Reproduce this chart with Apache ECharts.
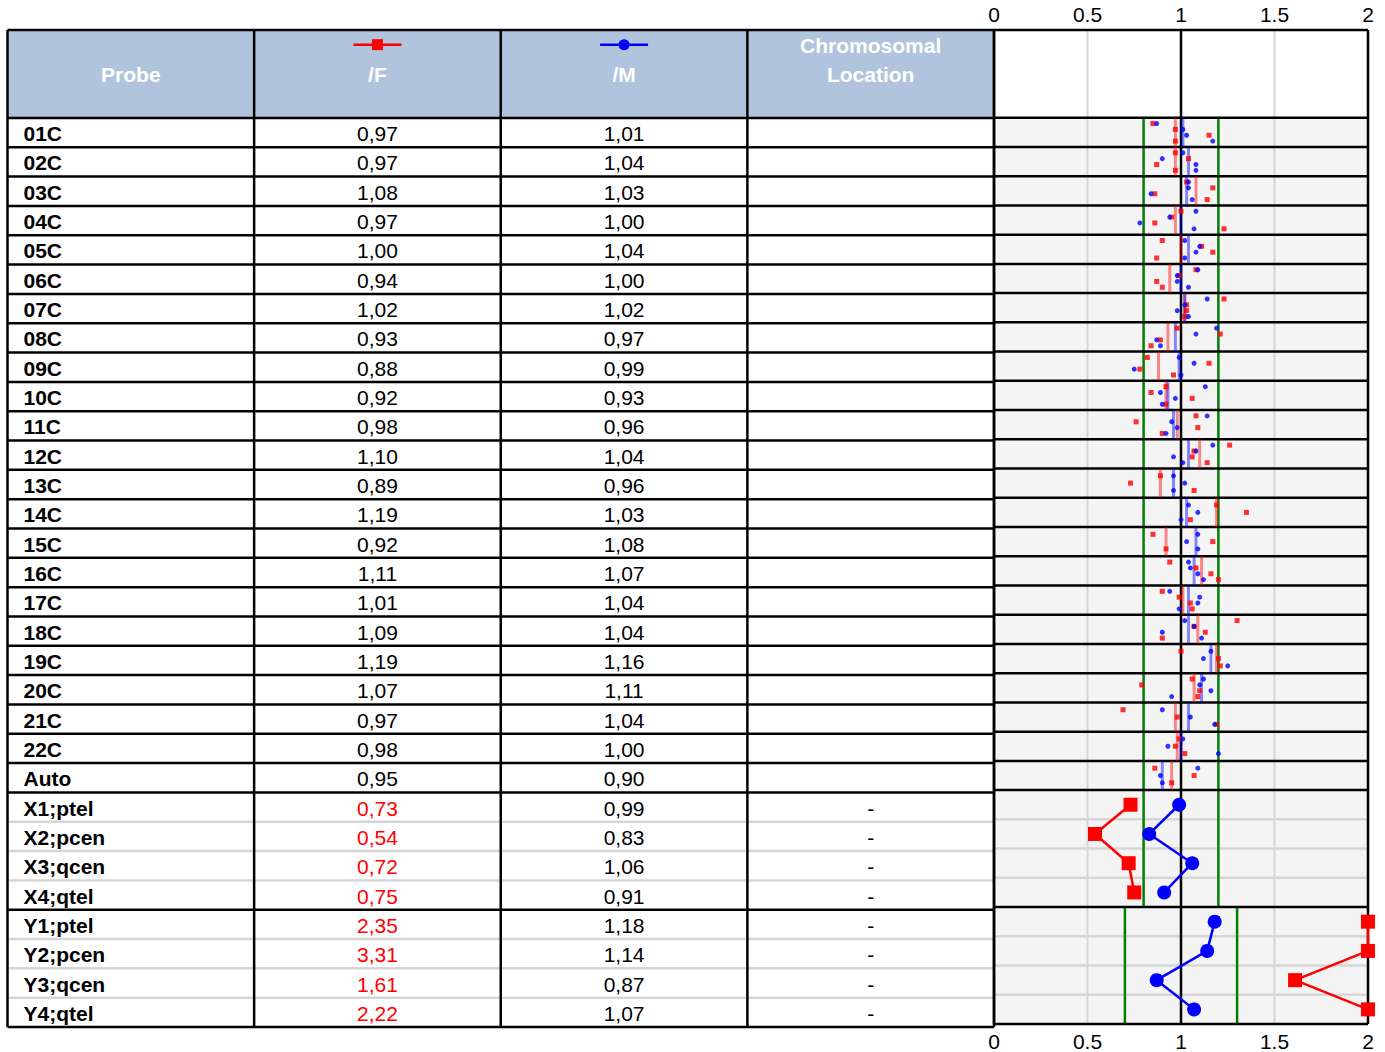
<!DOCTYPE html>
<html>
<head>
<meta charset="utf-8">
<script src="https://cdn.jsdelivr.net/npm/echarts@6/dist/echarts.min.js"></script>
<style>
  html, body { margin: 0; padding: 0; background: #fff; }
  #chart { width: 1385px; height: 1052px; }
</style>
</head>
<body>
<div id="chart"></div>
<script>
// ---- data ----
const probes = ['01C', '02C', '03C', '04C', '05C', '06C', '07C', '08C', '09C', '10C', '11C',
  '12C', '13C', '14C', '15C', '16C', '17C', '18C', '19C', '20C', '21C', '22C', 'Auto',
  'X1;ptel', 'X2;pcen', 'X3;qcen', 'X4;qtel', 'Y1;ptel', 'Y2;pcen', 'Y3;qcen', 'Y4;qtel'];
const ratioF = [0.97, 0.97, 1.08, 0.97, 1.00, 0.94, 1.02, 0.93, 0.88, 0.92, 0.98, 1.10, 0.89,
  1.19, 0.92, 1.11, 1.01, 1.09, 1.19, 1.07, 0.97, 0.98, 0.95,
  0.73, 0.54, 0.72, 0.75, 2.35, 3.31, 1.61, 2.22];
const ratioM = [1.01, 1.04, 1.03, 1.00, 1.04, 1.00, 1.02, 0.97, 0.99, 0.93, 0.96, 1.04, 0.96,
  1.03, 1.08, 1.07, 1.04, 1.04, 1.16, 1.11, 1.04, 1.00, 0.90,
  0.99, 0.83, 1.06, 0.91, 1.18, 1.14, 0.87, 1.07];
const locations = ['', '', '', '', '', '', '', '', '', '', '', '', '', '', '', '', '', '', '', '', '', '', '',
  '-', '-', '-', '-', '-', '-', '-', '-'];

// single probe ratios for the autosomal rows (01C .. Auto)
const probeF = [
  [0.85, 0.97, 1.15, 0.97], [0.97, 1.04, 0.87, 0.97], [1.03, 1.17, 0.86, 1.14], [1.00, 0.95, 0.86, 1.23],
  [0.90, 1.11, 1.17, 0.87], [1.08, 0.99, 0.87, 0.90], [1.23, 1.03, 1.03, 1.02], [0.98, 1.21, 0.89, 0.84],
  [0.82, 1.15, 0.78, 0.96], [0.92, 0.84, 1.06, 0.92], [1.08, 0.76, 1.09, 0.90], [1.26, 1.07, 1.06, 1.14],
  [0.89, 0.73, 1.07], [1.19, 1.35, 1.05], [0.85, 1.17, 0.92], [0.94, 1.08, 1.16, 1.20],
  [0.90, 0.99, 1.05, 1.06], [1.30, 1.07, 1.13, 0.90], [1.00, 1.20, 1.21], [1.06, 0.79, 1.10, 1.09],
  [0.69, 0.98, 1.19], [0.99, 0.97, 1.02], [0.86, 1.07, 0.95]
];
const probeM = [
  [0.87, 1.01, 1.03, 1.17], [1.01, 0.90, 1.08, 1.08], [1.04, 1.04, 0.84, 1.06], [1.08, 0.94, 0.78, 1.07],
  [1.02, 1.10, 1.08, 1.02], [1.09, 0.98, 0.98, 1.04], [1.14, 1.02, 0.98, 1.04], [1.19, 1.08, 0.87, 0.89],
  [0.99, 1.07, 0.75, 1.00], [1.13, 0.89, 0.97, 0.90], [1.14, 0.95, 0.98, 0.92], [1.17, 1.08, 0.96, 1.01],
  [0.96, 1.02, 0.96], [1.04, 1.09, 1.00], [1.09, 1.03, 1.09], [1.04, 1.05, 1.09, 1.12],
  [0.94, 1.10, 1.09, 0.99], [1.02, 1.07, 0.90, 1.11], [1.16, 1.12, 1.25], [1.12, 1.10, 1.16, 0.95],
  [0.90, 1.05, 1.18], [1.01, 0.93, 1.20], [1.09, 0.89, 0.90]
];

const xTicks = [0, 0.5, 1, 1.5, 2];
const sectionStart = [0, 23, 27];   // autosomes, X, Y
const sectionEnd = [23, 27, 31];
const bandLow = [0.8, 0.8, 0.7];
const bandHigh = [1.2, 1.2, 1.3];
const headerRows = 3;

// ---- helpers ----
const FONT = '"Liberation Sans", Arial, sans-serif';
const nRows = probes.length;
const xMax = xTicks[xTicks.length - 1];
const sectionOf = r => sectionStart.findIndex((s, i) => r >= s && r < sectionEnd[i]);
const fmt = v => v.toFixed(2).replace('.', ',');
const outOfBand = (v, r) => v < bandLow[sectionOf(r)] || v > bandHigh[sectionOf(r)];

function segSeries(gi, data, color, width, z) {
  return {
    type: 'custom', xAxisIndex: gi, yAxisIndex: gi === 0 ? 0 : 1, z, silent: true, clip: false,
    renderItem(p, api) {
      const a = api.coord([api.value(0), api.value(1)]);
      const b = api.coord([api.value(2), api.value(3)]);
      return { type: 'line', shape: { x1: a[0], y1: a[1], x2: b[0], y2: b[1] },
        style: { stroke: color, lineWidth: width } };
    },
    data
  };
}
function rectSeries(gi, data, fill, z) {
  return {
    type: 'custom', xAxisIndex: gi, yAxisIndex: gi === 0 ? 0 : 1, z, silent: true,
    renderItem(p, api) {
      const a = api.coord([api.value(0), api.value(2)]);
      const b = api.coord([api.value(1), api.value(3)]);
      return { type: 'rect', shape: { x: a[0], y: a[1], width: b[0] - a[0], height: b[1] - a[1] },
        style: { fill } };
    },
    data
  };
}

const headTop = -headerRows;
const blackRows = [headTop, 0];
for (let r = 1; r < sectionEnd[0]; r++) blackRows.push(r);
blackRows.push(sectionEnd[0], sectionEnd[1], sectionEnd[2]);
const grayRows = [];
[1, 2].forEach(s => { for (let r = sectionStart[s] + 1; r < sectionEnd[s]; r++) grayRows.push(r); });

// table cells
const cells = [];
probes.forEach((p, r) => {
  const y = r + 0.5;
  cells.push({ x: 0, y, text: p, bold: true, align: 'left', color: '#000' });
  cells.push({ x: 1.5, y, text: fmt(ratioF[r]), color: outOfBand(ratioF[r], r) ? '#ff0000' : '#000' });
  cells.push({ x: 2.5, y, text: fmt(ratioM[r]), color: outOfBand(ratioM[r], r) ? '#ff0000' : '#000' });
  cells.push({ x: 3.5, y, text: locations[r], color: '#000' });
});
const headMid = headTop / 2;
cells.push({ x: 0.5, y: headMid, text: 'Probe', bold: true, color: '#fff' });
cells.push({ x: 1.5, y: headMid, text: '/F', bold: true, color: '#fff' });
cells.push({ x: 2.5, y: headMid, text: '/M', bold: true, color: '#fff' });
cells.push({ x: 3.5, y: headMid - 1, text: 'Chromosomal', bold: true, color: '#fff' });
cells.push({ x: 3.5, y: headMid, text: 'Location', bold: true, color: '#fff' });

const series = [];
// backgrounds
series.push(rectSeries(0, [[0, 4, headTop, 0]], '#b0c4de', 1));
series.push(rectSeries(1, [[0, xMax, headTop, 0]], '#ffffff', 1));
series.push(rectSeries(1, [[0, xMax, 0, nRows]], '#f4f4f4', 1));
// gray grid
series.push(segSeries(1, xTicks.map(t => [t, headTop, t, nRows]), '#d6d6d6', 2, 2));
series.push(segSeries(0, grayRows.map(r => [0, r, 4, r]), '#d6d6d6', 2.5, 2));
series.push(segSeries(1, grayRows.map(r => [0, r, xMax, r]), '#d6d6d6', 2.5, 2));
// thresholds
const greens = [];
sectionStart.forEach((s, i) => {
  greens.push([bandLow[i], s, bandLow[i], sectionEnd[i]], [bandHigh[i], s, bandHigh[i], sectionEnd[i]]);
});
series.push(segSeries(1, greens, '#008000', 2.5, 3));
// black frame lines
series.push(segSeries(0, blackRows.map(r => [0, r, 4, r]), '#000', 2.5, 4));
series.push(segSeries(1, blackRows.map(r => [0, r, xMax, r]), '#000', 2.5, 4));
series.push(segSeries(0, [0, 1, 2, 3, 4].map(c => [c, headTop, c, nRows]), '#000', 2.5, 4));
series.push(segSeries(1, [0, 1, xMax].map(c => [c, headTop, c, nRows]), '#000', 2.5, 4));
// medians of autosomal rows
const nAuto = sectionEnd[0];
series.push(segSeries(1, ratioF.slice(0, nAuto).map((v, r) => [v, r, v, r + 1]), 'rgba(255,0,0,0.45)', 3, 5));
series.push(segSeries(1, ratioM.slice(0, nAuto).map((v, r) => [v, r, v, r + 1]), 'rgba(0,0,255,0.45)', 3, 5));
// single probes
const dots = arr => arr.flatMap((row, r) => row.map((v, k) => [v, r + (k + 1) / (row.length + 1)]));
series.push({ type: 'scatter', xAxisIndex: 1, yAxisIndex: 1, z: 6, silent: true, symbol: 'rect', symbolSize: 5,
  itemStyle: { color: '#ff0000' }, data: dots(probeF) });
series.push({ type: 'scatter', xAxisIndex: 1, yAxisIndex: 1, z: 6, silent: true, symbol: 'circle', symbolSize: 5,
  itemStyle: { color: '#0000ff' }, data: dots(probeM) });
// X and Y probes
[1, 2].forEach(s => {
  const rows = [];
  for (let r = sectionStart[s]; r < sectionEnd[s]; r++) rows.push(r);
  series.push({ type: 'line', xAxisIndex: 1, yAxisIndex: 1, z: 7, silent: true, clip: false,
    symbol: 'rect', symbolSize: 14, showAllSymbol: true, itemStyle: { color: '#ff0000' },
    lineStyle: { color: '#ff0000', width: 2.5 }, animation: false,
    data: rows.map(r => [Math.min(ratioF[r], xMax), r + 0.5]) });
  series.push({ type: 'line', xAxisIndex: 1, yAxisIndex: 1, z: 7, silent: true, clip: false,
    symbol: 'circle', symbolSize: 14, showAllSymbol: true, itemStyle: { color: '#0000ff' },
    lineStyle: { color: '#0000ff', width: 2.5 }, animation: false,
    data: rows.map(r => [Math.min(ratioM[r], xMax), r + 0.5]) });
});
// legend icons in the header
const legendIcons = [{ x: 1.5, color: '#ff0000', shape: 'rect' }, { x: 2.5, color: '#0000ff', shape: 'circle' }];
series.push({
  type: 'custom', xAxisIndex: 0, yAxisIndex: 0, z: 8, silent: true,
  renderItem(p, api) {
    const ic = legendIcons[p.dataIndex];
    const c = api.coord([api.value(0), api.value(1)]);
    const mark = ic.shape === 'rect'
      ? { type: 'rect', shape: { x: c[0] - 5.5, y: c[1] - 5.5, width: 11, height: 11 }, style: { fill: ic.color } }
      : { type: 'circle', shape: { cx: c[0], cy: c[1], r: 5.5 }, style: { fill: ic.color } };
    return { type: 'group', children: [
      { type: 'line', shape: { x1: c[0] - 24, y1: c[1], x2: c[0] + 24, y2: c[1] }, style: { stroke: ic.color, lineWidth: 2.5 } },
      mark
    ] };
  },
  data: legendIcons.map(ic => [ic.x, headTop + 0.5])
});
// table text
series.push({
  type: 'custom', xAxisIndex: 0, yAxisIndex: 0, z: 9, silent: true,
  renderItem(p, api) {
    const cell = cells[p.dataIndex];
    const c = api.coord([api.value(0), api.value(1)]);
    return { type: 'text', x: c[0] + (cell.align === 'left' ? 16 : 0), y: c[1] + 1,
      style: { text: cell.text, fill: cell.color, fontSize: 21, fontFamily: FONT,
        fontWeight: cell.bold ? 'bold' : 'normal', align: cell.align || 'center', verticalAlign: 'middle' } };
  },
  data: cells.map(c => [c.x, c.y])
});

const hidden = { show: false };
const plotX = (position, margin) => ({
  type: 'value', gridIndex: 1, min: 0, max: xMax, interval: 0.5, position,
  axisLine: hidden, axisTick: hidden, splitLine: hidden,
  axisLabel: { fontSize: 21, color: '#000', fontFamily: FONT, margin }
});

const chart = echarts.init(document.getElementById('chart'), null, { renderer: 'svg' });
chart.setOption({
  animation: false,
  backgroundColor: '#fff',
  grid: [
    { left: 7.5, top: 30, width: 986.5, height: 997 },
    { left: 994, top: 30, width: 374, height: 997 }
  ],
  xAxis: [
    { type: 'value', gridIndex: 0, min: 0, max: 4, show: false },
    plotX('top', 5),
    plotX('bottom', 7)
  ],
  yAxis: [
    { type: 'value', gridIndex: 0, min: headTop, max: nRows, inverse: true, show: false },
    { type: 'value', gridIndex: 1, min: headTop, max: nRows, inverse: true, show: false }
  ],
  series
});
</script>
</body>
</html>
